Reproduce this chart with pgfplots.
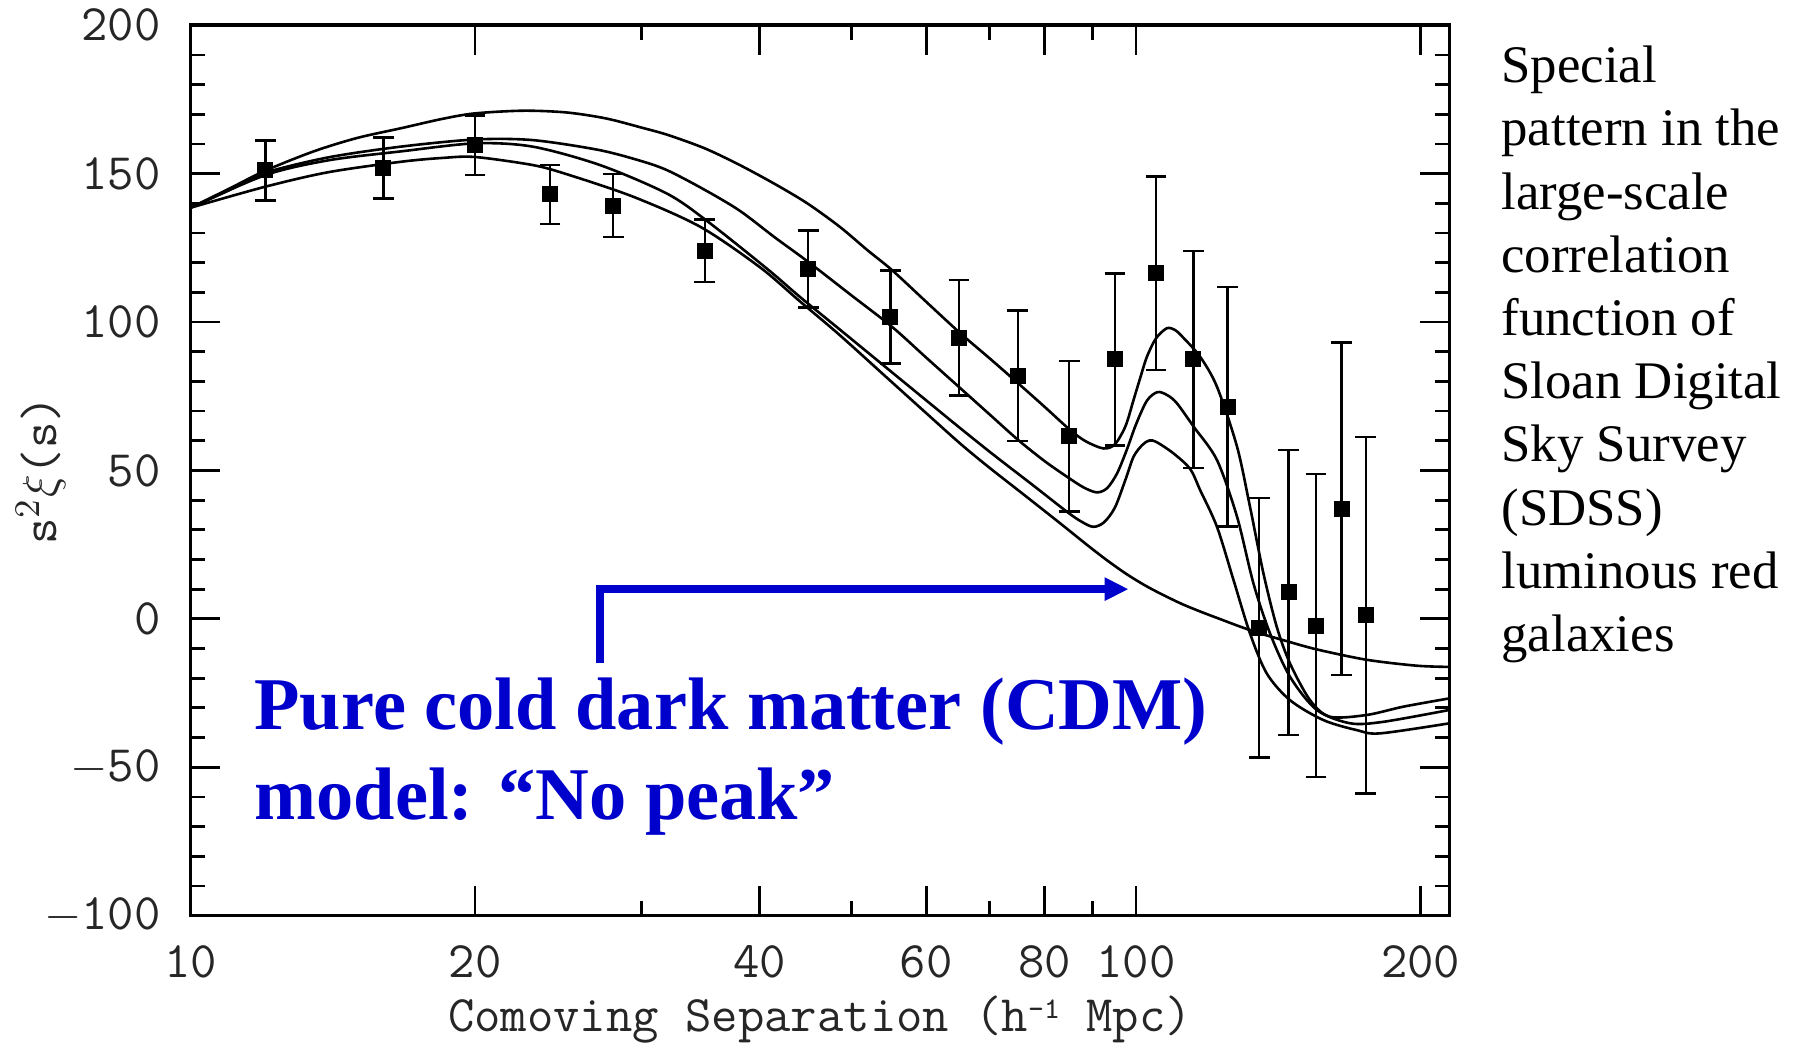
\documentclass[border=0pt]{standalone}
\usepackage{fontspec}
\setmainfont{Liberation Serif}
\usepackage{pgfplots}
\usepackage{pgfplotstable}
\pgfplotsset{compat=1.18}
\usetikzlibrary{arrows.meta}

\definecolor{annblue}{RGB}{0,0,204}

% measured points with symmetric errors
\pgfplotstableread{
x    y      e
12   151.1  10.1
16   151.9  10.3
20   159.6  10.0
24   143.0  10.0
28   139.2  10.6
35   124.0  10.6
45   117.9  13.0
55   101.7  15.7
65    94.7  19.5
75    81.9  22.0
85    61.5  25.3
95    87.4  29.0
105  116.4  32.6
115   87.4  36.5
125   71.5  40.4
135   -3.0  43.7
145    8.9  48.0
155   -2.3  51.0
165   37.1  56.0
175    1.2  60.0
}\points

% model with the strongest peak
\pgfplotstableread{
x y
10 138.5
11 145
12 151
13.5 157.5
15 162
16.7 165.3
18.5 168.5
20 170.3
22.5 171.2
25 170.6
27.5 168.6
30 165.5
32 163
35 158.5
38.1 152.9
41.5 146.5
44.9 140
48.6 132.1
52 124.2
55.2 117.5
60 106.8
65.2 96.2
70 87.8
75.1 79.3
80 71.5
85.2 63.6
88.5 59.8
92.4 57.4
95 58.8
97.5 65
99.4 73.7
101 81
102.7 88.3
105 94.5
107.8 97.9
110 97.3
112 95
116.9 88.3
121.8 78.2
127.9 58
132 37.8
136.4 15.3
140.9 -2.7
145.5 -15
152.8 -27.4
160.4 -33
175.4 -32.4
191.8 -29.6
214.6 -26.8
}\modelA

\pgfplotstableread{
x y
10 138.5
11 144.5
12 150.3
14 155.5
16.7 159.1
20 161.5
23 161.3
27 158
30 154.2
32 151
35 144.5
38.1 137.5
41.5 128.5
45 120.3
50 109
55.2 98.4
60 88
65.2 77.7
70 68.9
75.1 60.2
80 53.2
84.5 47.9
88 44.3
90.9 42.6
93.2 44
95.5 49
97.8 57
100 65.5
102.7 73.5
105.4 76.4
108 75.3
110.5 72.6
115.1 64.7
121.8 53.5
127.9 34.4
133.1 12
138.6 -4.9
145.5 -19.5
155.3 -30.7
168.5 -35.2
182.7 -34.7
214.6 -30.7
}\modelB

\pgfplotstableread{
x y
10 138.5
12 149.5
14 154.5
16.7 157.5
20 160.2
23 159.1
27.1 152.9
31.9 143.3
35.2 134
40.7 118
44.1 108.5
48.6 97.5
54.5 84.5
60 73.6
65.2 64.2
70.6 55.4
77.9 44.9
84.5 36.1
87.5 32.8
90.1 31
92.5 32.5
95 37.5
97.5 47
99.4 54.6
101.5 58.5
103.3 60.1
105.2 59.5
109.5 55.8
114.1 50.5
116.9 43.4
121.8 31
126.8 13.1
132 -4.9
137.5 -18.4
145.5 -27.4
157.8 -34.1
171.2 -37.5
181.2 -38.6
214.6 -35.2
}\modelC

% pure CDM, no peak
\pgfplotstableread{
x y
10 138.5
12 145.6
14 150.5
16.7 154
18.5 155.3
20 155.6
23 152.9
25 149.8
29.4 142.2
34.6 132.1
40 118.5
44.1 107
48.6 95.6
54.5 81.3
60 69.3
65.2 59
70 50.9
76.7 41
83.2 32.1
89.1 24.5
93.3 19.6
97.7 15.1
102.3 11.2
107.2 7.8
112.2 4.8
117.5 2.2
123 -0.2
128.8 -2.6
134.9 -4.8
143.2 -7.2
155.3 -10.3
175.4 -13.8
198.2 -15.8
214.6 -16.2
}\modelD

\begin{document}
\begin{tikzpicture}
\useasboundingbox (-47.625pt,-31.85pt) rectangle (402.125pt,228.9pt);
\begin{axis}[
  at={(0pt,0pt)}, anchor=south west,
  scale only axis, width=314.75pt, height=222.6pt,
  xmode=log, xmin=10, xmax=214.6, ymin=-100, ymax=200,
  xtick={10,20,40,60,80,100,200},
  xticklabels={10,20,40,60,80,100,200},
  minor xtick={30,50,70,90},
  ytick={-100,-50,0,50,100,150,200},
  yticklabels={$-$100,$-$50,0,50,100,150,200},
  minor y tick num=4,
  tick align=inside,
  major tick length=7.5pt, minor tick length=3.7pt,
  every tick/.style={black, line width=0.7pt},
  axis line style={line width=0.9pt},
  tick label style={font=\ttfamily\fontsize{12.8}{14}\selectfont, black!85, inner sep=1pt},
  xticklabel style={yshift=-6.3pt},
  yticklabel style={xshift=-6.3pt},
  xlabel={Comoving Separation (h\raisebox{3.2pt}{\fontsize{7.5}{8}\selectfont -1} Mpc)},
  ylabel={s$^2\xi$(s)},
  label style={font=\ttfamily\fontsize{12.8}{14}\selectfont, black!85, inner sep=1pt},
  xlabel style={at={(axis description cs:0.5,0)}, anchor=center, yshift=-26pt},
  % the label is turned by 90 degrees, so its yshift moves it to the left
  ylabel style={at={(axis description cs:0,0.5)}, anchor=center, yshift=37.4pt},
]
\addplot[black, line width=0.65pt, smooth, no markers] table {\modelA};
\addplot[black, line width=0.65pt, smooth, no markers] table {\modelB};
\addplot[black, line width=0.65pt, smooth, no markers] table {\modelC};
\addplot[black, line width=0.65pt, smooth, no markers] table {\modelD};
\addplot[black, only marks, mark=square*, mark size=1.8pt,
  error bars/.cd, y dir=both, y explicit,
  error bar style={line width=0.6pt},
  error mark options={rotate=90, mark size=2.6pt, line width=0.6pt}]
  table[x=x, y=y, y error=e] {\points};
\draw[annblue, line width=2pt, -{Triangle[length=6pt,width=5.5pt]}]
  (axis cs:27.1,-15) |- (axis cs:98.2,10);
\end{axis}
\node[anchor=base west, inner sep=0, annblue, font=\bfseries\fontsize{18.6}{22}\selectfont]
  at (15.8pt,46.6pt) {Pure cold dark matter (CDM)};
\node[anchor=base west, inner sep=0, annblue, font=\bfseries\fontsize{18.6}{22}\selectfont]
  at (15.8pt,24.1pt) {model: “No peak”};
\foreach \t [count=\i from 0] in {Special, pattern in the, large-scale, correlation,
    function of, Sloan Digital, Sky Survey, {(SDSS)}, luminous red, galaxies}
  \node[anchor=base west, inner sep=0, font=\fontsize{13.2}{15.8}\selectfont]
    at (327.55pt, {208.25pt-\i*15.8pt}) {\t};
\end{tikzpicture}
\end{document}
